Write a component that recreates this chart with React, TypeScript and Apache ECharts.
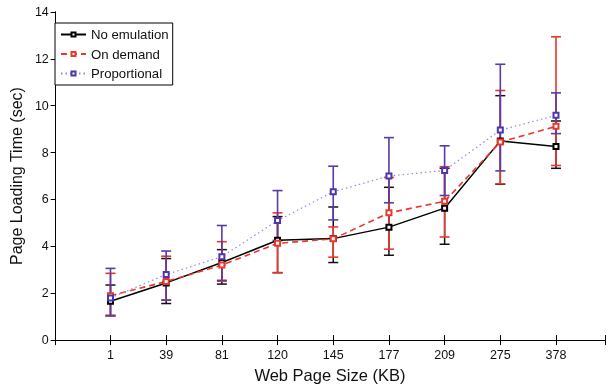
import React, { useEffect, useRef } from "react";
import * as echarts from "echarts";

const categories = ["1", "39", "81", "120", "145", "177", "209", "275", "378"];
const yTicks = [0, 2, 4, 6, 8, 10, 12, 14];

const noEmu = [1.66, 2.44, 3.31, 4.26, 4.33, 4.82, 5.63, 8.5, 8.26];
const noEmuLow = [1.05, 1.56, 2.39, 2.88, 3.31, 3.62, 4.09, 6.65, 7.33];
const noEmuHigh = [2.35, 3.48, 3.86, 5.27, 5.68, 6.52, 7.33, 10.43, 9.35];

const onDemand = [1.89, 2.5, 3.2, 4.13, 4.32, 5.43, 5.92, 8.45, 9.12];
const onDemandLow = [1.05, 1.7, 2.51, 2.87, 3.54, 3.88, 4.4, 6.67, 7.45];
const onDemandHigh = [2.85, 3.58, 4.2, 5.43, 4.83, 6.94, 7.4, 10.65, 12.94];

const proportional = [1.8, 2.8, 3.56, 5.1, 6.33, 7.0, 7.24, 8.96, 9.59];
const propLow = [1.03, 1.71, 2.55, 4.25, 5.13, 5.86, 6.17, 7.22, 8.81];
const propHigh = [3.06, 3.8, 4.89, 6.38, 7.42, 8.64, 8.29, 11.77, 10.55];

const FONT = "Liberation Sans";

function errSeries(name: string, low: number[], high: number[], color: string, lw: number) {
  return {
    type: "custom",
    name,
    data: low.map((l, i) => [i + 1, l, high[i]]),
    encode: { x: 0, y: [1, 2] },
    renderItem: (params: any, api: any) => {
      const x = api.value(0);
      const lo = api.coord([x, api.value(1)]);
      const hi = api.coord([x, api.value(2)]);
      const w = 5;
      const style = { stroke: color, lineWidth: lw };
      return {
        type: "group",
        children: [
          { type: "line", shape: { x1: lo[0], y1: lo[1], x2: hi[0], y2: hi[1] }, style },
          { type: "line", shape: { x1: lo[0] - w, y1: lo[1], x2: lo[0] + w, y2: lo[1] }, style },
          { type: "line", shape: { x1: hi[0] - w, y1: hi[1], x2: hi[0] + w, y2: hi[1] }, style },
        ],
      };
    },
  };
}

function lineSeries(name: string, vals: number[], lineColor: string, markColor: string, type: any, width: number) {
  return {
    type: "line",
    name,
    data: vals.map((v, i) => [i + 1, v]),
    symbol: "emptyRect",
    symbolSize: 5,
    lineStyle: { color: lineColor, type, width },
    itemStyle: { color: markColor, borderColor: markColor, borderWidth: 1.3 },
  };
}

export default function App() {
  const ref = useRef<HTMLDivElement>(null);
  useEffect(() => {
    if (!ref.current) return;
    const chart = echarts.init(ref.current, undefined, { renderer: "svg" });
    const xCommon = {
      type: "value",
      min: 0,
      max: 9.88,
      interval: 1,
      splitLine: { show: false },
      axisLine: { show: true, lineStyle: { color: "#000", width: 1 } },
    };
    const yCommon = {
      type: "value",
      min: 0,
      max: 14,
      interval: 2,
      splitLine: { show: false },
      axisLine: { show: true, lineStyle: { color: "#000", width: 1 } },
    };
    chart.setOption({
      animation: false,
      textStyle: { fontFamily: FONT },
      grid: { left: 45.5, right: 5, top: 12, bottom: 36 },
      xAxis: [
        {
          ...xCommon,
          position: "bottom",
          axisTick: { show: true, inside: true, length: 5, lineStyle: { color: "#000" } },
          axisLabel: {
            margin: 8,
            fontSize: 12.5,
            color: "#111",
            fontFamily: FONT,
            formatter: (v: number) => {
              const i = Math.round(v);
              return Math.abs(v - i) < 1e-6 && i >= 1 && i <= categories.length ? categories[i - 1] : "";
            },
          },
          name: "Web Page Size (KB)",
          nameLocation: "middle",
          nameGap: 19,
          nameTextStyle: { fontSize: 16.5, color: "#111", fontFamily: FONT },
        },
        {
          ...xCommon,
          position: "top",
          axisTick: { show: true, inside: true, length: 5, lineStyle: { color: "#000" } },
          axisLabel: { show: false },
        },
      ],
      yAxis: [
        {
          ...yCommon,
          position: "left",
          axisTick: { show: true, inside: false, length: 4, lineStyle: { color: "#000" } },
          axisLabel: {
            margin: 6,
            fontSize: 12.5,
            color: "#111",
            fontFamily: FONT,
            formatter: (v: number) => (yTicks.includes(v) ? String(v) : ""),
          },
          name: "Page Loading Time (sec)",
          nameLocation: "middle",
          nameGap: 23,
          nameTextStyle: { fontSize: 16, color: "#111", fontFamily: FONT },
        },
        {
          ...yCommon,
          position: "right",
          axisTick: { show: true, inside: true, length: 4, lineStyle: { color: "#000" } },
          axisLabel: { show: false },
        },
      ],
      legend: {
        data: ["No emulation", "On demand", "Proportional"],
        orient: "vertical",
        left: 55,
        top: 23,
        padding: [4, 4, 4, 5],
        itemWidth: 25,
        itemHeight: 5,
        itemGap: 4.5,
        borderColor: "#000",
        borderWidth: 1,
        backgroundColor: "#fff",
        textStyle: { fontSize: 13.2, color: "#111", fontFamily: FONT, lineHeight: 15 },
      },
      series: [
        errSeries("No emulation err", noEmuLow, noEmuHigh, "#111", 1.5),
        lineSeries("No emulation", noEmu, "#000", "#000", "solid", 1.5),
        errSeries("On demand err", onDemandLow, onDemandHigh, "#e8382a", 1.6),
        lineSeries("On demand", onDemand, "#e8382a", "#e8382a", [6, 4], 1.6),
        errSeries("Proportional err", propLow, propHigh, "#5a3aa8", 1.6),
        lineSeries("Proportional", proportional, "#8c8ce6", "#4b35b0", [1.5, 3], 1.2),
      ],
    });
    return () => chart.dispose();
  }, []);
  return <div ref={ref} style={{ position: "fixed", left: 0, top: 0, width: 610, height: 388 }} />;
}
